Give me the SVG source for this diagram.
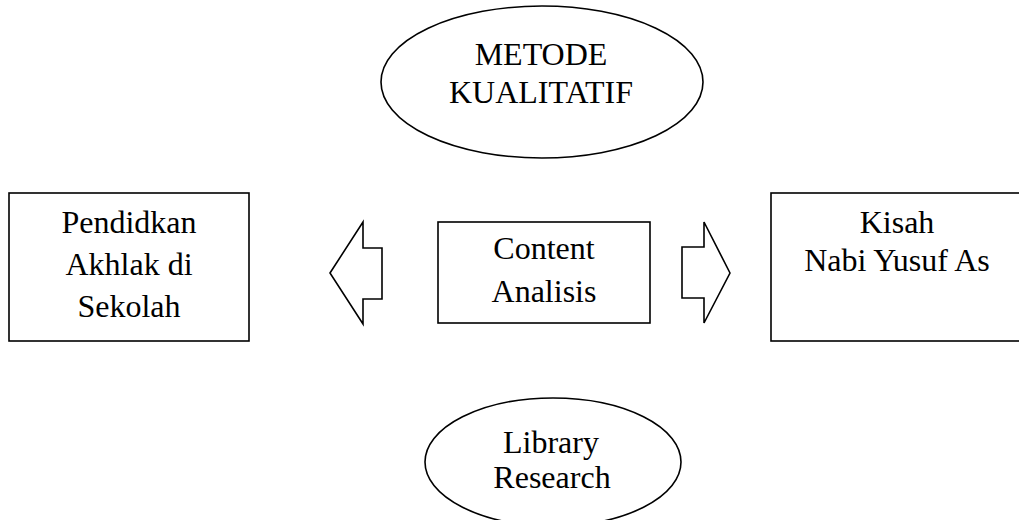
<svg xmlns="http://www.w3.org/2000/svg" width="1019" height="520" viewBox="0 0 1019 520">
<style>
.s{fill:#fff;stroke:#000;stroke-width:1.6}
.t{font-family:"Liberation Serif","Times New Roman",serif;font-size:32px;fill:#000;text-anchor:middle}
</style>
<rect width="1019" height="520" fill="#fff"/>
<g id="metode">
<ellipse class="s" cx="542" cy="82" rx="161" ry="76"/>
<text class="t" x="541" y="65">METODE</text>
<text class="t" x="541" y="103">KUALITATIF</text>
</g>
<g id="pendidikan">
<rect class="s" x="9" y="193" width="240" height="148"/>
<text class="t" x="129" y="233">Pendidkan</text>
<text class="t" x="129" y="275">Akhlak di</text>
<text class="t" x="129" y="317">Sekolah</text>
</g>
<g id="content">
<rect class="s" x="438" y="222" width="212" height="101"/>
<text class="t" x="544" y="259">Content</text>
<text class="t" x="544" y="302">Analisis</text>
</g>
<g id="kisah">
<rect class="s" x="771" y="193" width="260" height="148"/>
<text class="t" x="897" y="233">Kisah</text>
<text class="t" x="897" y="271">Nabi Yusuf As</text>
</g>
<g id="library">
<ellipse class="s" cx="553" cy="462" rx="128" ry="64"/>
<text class="t" x="551" y="453">Library</text>
<text class="t" x="552" y="488">Research</text>
</g>
<g id="connectors">
<polygon class="s" points="330,273 363,222 363,248 382,248 382,299 363,299 363,324"/>
<polygon class="s" points="730,273 704,222 704,247 682,247 682,298 704,298 704,323"/>
</g>
</svg>
